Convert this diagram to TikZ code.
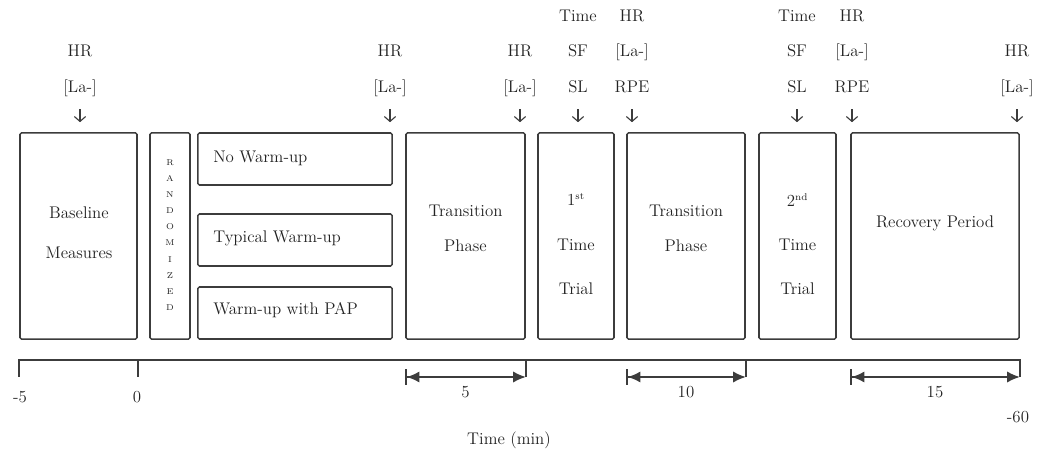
\documentclass[tikz,border=0pt]{standalone}
\usepackage{tikz}
\usepackage{xcolor}
\usetikzlibrary{arrows.meta}
\definecolor{linegray}{RGB}{60,60,60}
\definecolor{textgray}{RGB}{35,35,35}

\begin{document}
\begin{tikzpicture}[
        x=0.025cm, y=-0.025cm,
        box/.style={rectangle, draw=linegray, line width=1.1pt, rounded corners=1pt, inner sep=0pt, minimum height=5.15cm},
        wubox/.style={box, minimum width=4.85cm, minimum height=1.3cm},
        txt/.style={align=center, inner sep=0pt, text=textgray, font=\fontsize{12}{25}\selectfont},
        lab/.style={anchor=base, inner sep=0pt, text=textgray, font=\fontsize{12}{14}\selectfont},
        down/.style={-{Straight Barb[length=3.5pt,width=8pt]}, draw=linegray, line width=0.8pt, shorten <=0.4cm, shorten >=0.25cm},
        axis/.style={draw=linegray, line width=1.1pt},
        span/.style={{Bar[width=11pt]Latex[length=9pt,width=8pt]}-{Latex[length=9pt,width=8pt]}, draw=linegray, line width=1.1pt}
    ]
        \useasboundingbox (0,0) rectangle (1042,452);

        % Protocol blocks
        \node[box, minimum width=2.925cm] (base) at (78.5,236) {};
        \node[box, minimum width=1cm] (rand) at (170,236) {};
        \node[wubox] (nowu) at (295,159) {};
        \node[wubox] (typ) at (295,240) {};
        \node[wubox] (pap) at (295,313) {};
        \node[box, minimum width=2.975cm] (tr1) at (465.5,236) {};
        \node[box, minimum width=1.9cm] (tt1) at (576,236) {};
        \node[box, minimum width=2.95cm] (tr2) at (686,236) {};
        \node[box, minimum width=1.925cm] (tt2) at (797.5,236) {};
        \node[box, minimum width=4.2cm] (rec) at (935,236) {};

        % Block texts
        \node[txt, font=\fontsize{12}{28.5}\selectfont] (baset) at (79,233) {Baseline\\Measures};
        \node[txt, font=\fontsize{6}{11.5}\selectfont] (randt) at (170,235) {R\\A\\N\\D\\O\\M\\I\\Z\\E\\D};
        \node[txt, anchor=west] (nowut) at (213,158) {No Warm-up};
        \node[txt, anchor=west] (typt) at (213,238) {Typical Warm-up};
        \node[txt, anchor=west] (papt) at (213,310) {Warm-up with PAP};
        \node[txt] (tr1t) at (465.5,228.5) {Transition\\Phase};
        \node[txt, font=\fontsize{12}{31.3}\selectfont] (tt1t) at (576,244) {1\textsuperscript{\scriptsize st}\\Time\\Trial};
        \node[txt] (tr2t) at (686,228.5) {Transition\\Phase};
        \node[txt, font=\fontsize{12}{31.3}\selectfont] (tt2t) at (797.5,244) {2\textsuperscript{\scriptsize nd}\\Time\\Trial};
        \node[txt] (rect) at (935,223) {Recovery Period};

        % Measurements above the blocks
        \foreach \x/\n/\ra/\rb/\rc in {80/a//HR/{[La-]}, 390/b//HR/{[La-]}, 520/c//HR/{[La-]},
                578/d/Time/SF/SL, 632/e/HR/{[La-]}/RPE, 797/f/Time/SF/SL,
                852/g/HR/{[La-]}/RPE, 1017/h//HR/{[La-]}}{
            \node[lab] (\n1) at (\x,22) {\ra};
            \node[lab] (\n2) at (\x,57) {\rb};
            \node[lab] (\n3) at (\x,93) {\rc};
            \draw[down] (\n3.base) -- (\n3.base |- base.north);
        }

        % Time line
        \coordinate (ax) at (0,360);
        \coordinate (lo) at (0,377);
        \draw[axis] (base.south west |- lo) -- (base.south west |- ax) -- (rec.south east |- ax) -- (rec.south east |- lo);
        \foreach \b in {base, tr1, tr2}
            \draw[axis] (\b.south east |- ax) -- (\b.south east |- lo);

        \draw[span] (tr1.south west |- lo) -- node[txt, below=6pt] (d5) {5} (tr1.south east |- lo);
        \draw[span] (tr2.south west |- lo) -- node[txt, below=6pt] (d10) {10} (tr2.south east |- lo);
        \draw[span] (rec.south west |- lo) -- node[txt, below=6pt] (d15) {15} (rec.south east |- lo);

        \node[txt] (m5) at (20,397) {-5};
        \node[txt] (z0) at (137,397) {0};
        \node[txt] (m60) at (1018,417) {-60};
        \node[txt] (tlab) at (509,440) {Time (min)};

    \end{tikzpicture}
\end{document}
